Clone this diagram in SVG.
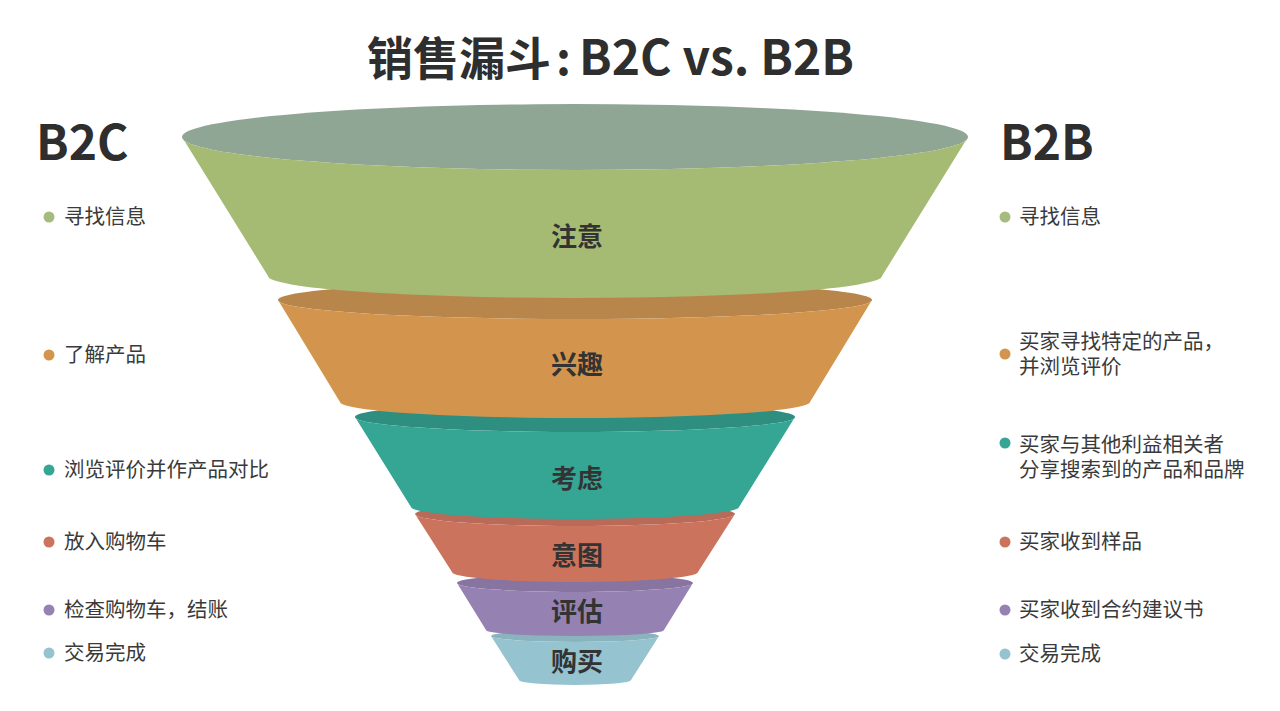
<svg xmlns="http://www.w3.org/2000/svg" width="1280" height="711" viewBox="0 0 1280 711">
<style>
.t{font-family:"Noto Sans CJK SC","Noto Sans",sans-serif;fill:#3a3a3a;font-size:20.5px}
.h{font-family:"Noto Sans CJK SC","Noto Sans",sans-serif;fill:#2e2e2e;font-weight:bold}
.lbl{font-family:"Noto Sans CJK SC","Noto Sans",sans-serif;fill:#333;font-weight:bold;font-size:26px;text-anchor:middle}
</style>
<rect width="1280" height="711" fill="#ffffff"/>
<text class="h" x="367" y="75" font-size="46">销售漏斗<tspan x="556">:</tspan><tspan x="579" font-size="48">B2C vs. B2B</tspan></text>
<text class="h" x="36" y="160" font-size="48">B2C</text>
<text class="h" x="1000" y="160" font-size="48">B2B</text>

<g id="layer-6">
<ellipse cx="575" cy="636" rx="84" ry="6" fill="#89b4bd"/>
<path d="M491,636 L519,680 A56,5 0 0 0 631,680 L659,636 A84,6 0 0 1 491,636 Z" fill="#95c3cf"/>
<text class="lbl" x="577" y="671">购买</text>
</g>
<g id="layer-5">
<ellipse cx="575" cy="583" rx="118" ry="9" fill="#8774a0"/>
<path d="M457,583 L486,630 A89,6 0 0 0 664,630 L693,583 A118,9 0 0 1 457,583 Z" fill="#9682b2"/>
<text class="lbl" x="577" y="621">评估</text>
</g>
<g id="layer-4">
<ellipse cx="575" cy="514" rx="160" ry="12" fill="#b96a58"/>
<path d="M415,514 L452,572 A123,10 0 0 0 698,572 L735,514 A160,12 0 0 1 415,514 Z" fill="#cc735d"/>
<text class="lbl" x="577" y="565">意图</text>
</g>
<g id="layer-3">
<ellipse cx="575" cy="417" rx="220" ry="15" fill="#2e8f80"/>
<path d="M355,417 L411,507 A164,12 0 0 0 739,507 L795,417 A220,15 0 0 1 355,417 Z" fill="#35a594"/>
<text class="lbl" x="577" y="488">考虑</text>
</g>
<g id="layer-2">
<ellipse cx="575" cy="300" rx="297" ry="19" fill="#b8864b"/>
<path d="M278,300 L340,402 A235,16 0 0 0 810,402 L872,300 A297,19 0 0 1 278,300 Z" fill="#d3954e"/>
<text class="lbl" x="577" y="374">兴趣</text>
</g>
<g id="layer-1">
<ellipse cx="575" cy="137" rx="393" ry="33" fill="#8fa695"/>
<path d="M182,137 L268,276 A307,22 0 0 0 882,276 L968,137 A393,33 0 0 1 182,137 Z" fill="#a5bb73"/>
<text class="lbl" x="577" y="246">注意</text>
</g>

<g id="connectors"></g>

<g id="b2c-list">
<circle cx="49" cy="217" r="5.5" fill="#a6bb7e"/><text class="t" x="64" y="224">寻找信息</text>
<circle cx="49" cy="355" r="5.5" fill="#d3954e"/><text class="t" x="64" y="362">了解产品</text>
<circle cx="49" cy="470" r="5.5" fill="#35a594"/><text class="t" x="64" y="477">浏览评价并作产品对比</text>
<circle cx="49" cy="542" r="5.5" fill="#cc735d"/><text class="t" x="64" y="549">放入购物车</text>
<circle cx="49" cy="610" r="5.5" fill="#9682b2"/><text class="t" x="64" y="617">检查购物车，结账</text>
<circle cx="49" cy="653" r="5.5" fill="#95c3cf"/><text class="t" x="64" y="660">交易完成</text>
</g>
<g id="b2b-list">
<circle cx="1005" cy="217" r="5.5" fill="#a6bb7e"/><text class="t" x="1019" y="224">寻找信息</text>
<circle cx="1005" cy="354" r="5.5" fill="#d3954e"/><text class="t" x="1019" y="349">买家寻找特定的产品，<tspan x="1019" dy="25">并浏览评价</tspan></text>
<circle cx="1005" cy="443" r="5.5" fill="#35a594"/><text class="t" x="1019" y="452">买家与其他利益相关者<tspan x="1019" dy="25">分享搜索到的产品和品牌</tspan></text>
<circle cx="1005" cy="542" r="5.5" fill="#cc735d"/><text class="t" x="1019" y="549">买家收到样品</text>
<circle cx="1005" cy="610" r="5.5" fill="#9682b2"/><text class="t" x="1019" y="617">买家收到合约建议书</text>
<circle cx="1005" cy="654" r="5.5" fill="#95c3cf"/><text class="t" x="1019" y="661">交易完成</text>
</g>
</svg>
